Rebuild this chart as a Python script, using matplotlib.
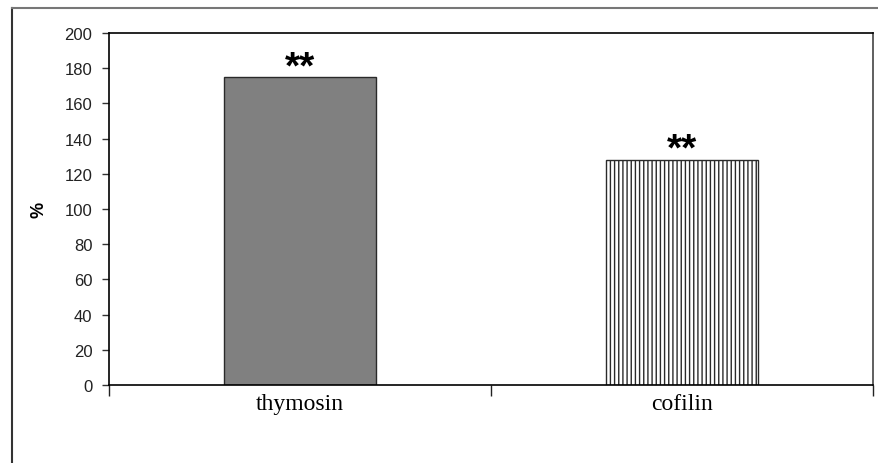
import matplotlib.pyplot as plt
from matplotlib.lines import Line2D

categories = ["thymosin", "cofilin"]
values = [175, 128]
marks = ["**", "**"]
yticks = [0, 20, 40, 60, 80, 100, 120, 140, 160, 180, 200]

plt.rcParams['hatch.color'] = '#8a8a8a'
plt.rcParams['hatch.linewidth'] = 1.0

fig = plt.figure(figsize=(8.79, 4.64), dpi=100)
ax = fig.add_axes([109/879, 78/464, 764/879, 352/464])

x = list(range(len(categories)))
bars = ax.bar(x, values, width=0.4, edgecolor='#2a2a2a', linewidth=1.0)
bars[0].set_facecolor('#808080')
bars[1].set_facecolor('white')
bars[1].set_hatch('||||')

for xi, v, m in zip(x, values, marks):
    ax.annotate(m, (xi, v), xytext=(0, 0), textcoords='offset points',
                ha='center', va='baseline', fontsize=28, fontweight='bold',
                family='Liberation Sans')

ax.set_xlim(-0.5, len(categories) - 0.5)
ax.set_ylim(0, 200)
ax.set_yticks(yticks)
ax.set_yticklabels([str(t) for t in yticks], family='Liberation Sans',
                   fontsize=12, color='#222222')
ax.tick_params(axis='y', length=5, width=1, pad=7, color='#333333')

# boundary ticks between categories, labels centred on bars
ax.set_xticks([i - 0.5 for i in range(len(categories) + 1)])
ax.set_xticklabels([])
ax.tick_params(axis='x', which='major', length=8, width=1, color='#222222')
ax.set_xticks(x, minor=True)
ax.set_xticklabels(categories, minor=True, family='Liberation Serif',
                   fontsize=17)
ax.tick_params(axis='x', which='minor', length=0, pad=6)

ax.set_ylabel('%', family='Liberation Sans', fontsize=13, fontweight='bold',
              labelpad=12)

for s in ['left', 'bottom', 'top']:
    ax.spines[s].set_color('black')
ax.spines['right'].set_color('#444444')
for s in ax.spines.values():
    s.set_linewidth(1.2)

# outer chart frame (only top and left edges visible)
fig.add_artist(Line2D([12/879, 12/879], [0, 1 - 9/464], color='#333333',
                      linewidth=1.5, transform=fig.transFigure))
fig.add_artist(Line2D([12/879, 1], [1 - 9/464, 1 - 9/464], color='#777777',
                      linewidth=1.5, transform=fig.transFigure))

fig.savefig('out.png', dpi=100)
